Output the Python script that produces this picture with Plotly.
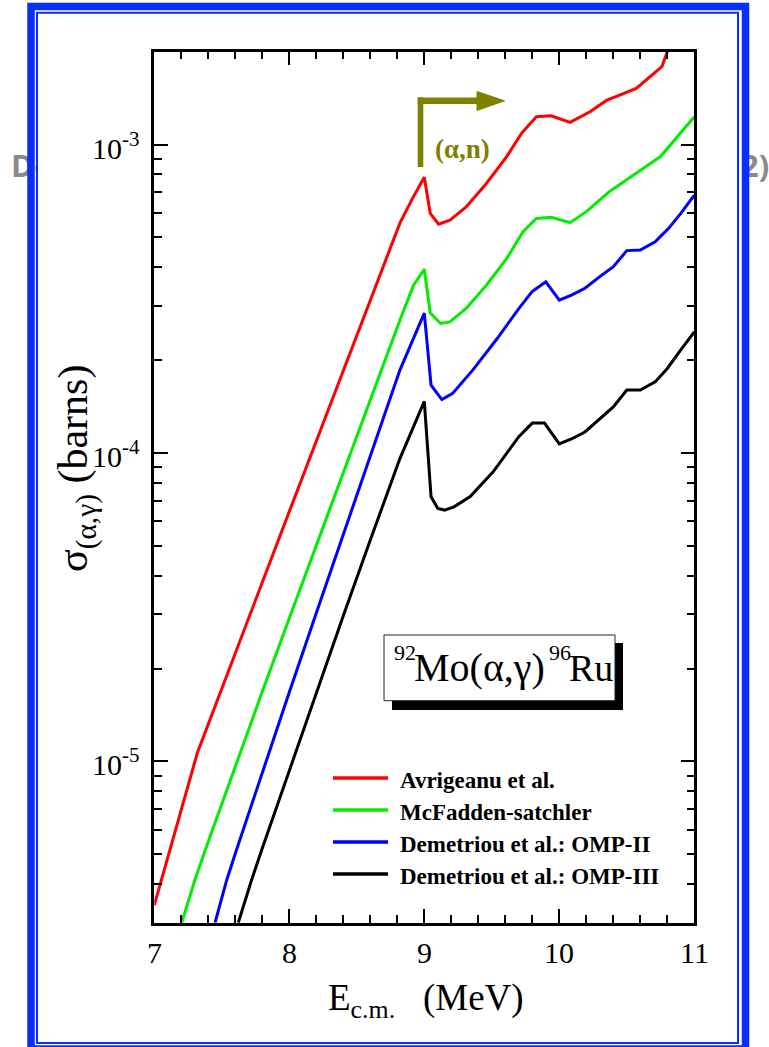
import math
import plotly.graph_objects as go

W, H = 769, 1047

# ---------------- data ----------------
E_avrigeanu = [7.0, 7.32, 8.0, 8.4, 8.82, 8.92, 9.0, 9.044, 9.106, 9.19, 9.31, 9.46,
               9.61, 9.72, 9.83, 9.94, 10.08, 10.23, 10.35, 10.57, 10.76, 10.80, 11.0]
S_avrigeanu = [3.42e-6, 1.07e-5, 6.46e-5, 1.84e-4, 5.57e-4, 6.78e-4, 7.83e-4, 5.98e-4,
               5.52e-4, 5.69e-4, 6.28e-4, 7.48e-4, 9.14e-4, 1.087e-3, 1.23e-3, 1.24e-3,
               1.18e-3, 1.28e-3, 1.39e-3, 1.52e-3, 1.79e-3, 2.0e-3, 2.4e-3]

E_mcfadden = [7.2, 7.30, 7.4, 7.6, 7.8, 8.0, 8.2, 8.4, 8.6, 8.82, 8.92, 9.0, 9.044, 9.12,
              9.19, 9.31, 9.46, 9.61, 9.73, 9.83, 9.94, 10.08, 10.20, 10.37, 10.55, 10.75, 11.0]
S_mcfadden = [2.97e-6, 4.12e-6, 5.50e-6, 9.67e-6, 1.684e-5, 2.913e-5, 5.02e-5, 8.62e-5,
              1.47e-4, 2.70e-4, 3.50e-4, 3.94e-4, 2.84e-4, 2.63e-4, 2.66e-4, 2.94e-4,
              3.50e-4, 4.27e-4, 5.21e-4, 5.76e-4, 5.81e-4, 5.58e-4, 6.06e-4, 7.03e-4,
              7.96e-4, 9.14e-4, 1.23e-3]

E_omp2 = [7.45, 7.536, 7.6, 7.8, 8.0, 8.2, 8.4, 8.6, 8.82, 9.0, 9.05, 9.13, 9.21, 9.36,
          9.54, 9.70, 9.80, 9.90, 10.0, 10.09, 10.19, 10.30, 10.40, 10.50, 10.60, 10.71,
          10.81, 10.90, 11.0]
S_omp2 = [3.0e-6, 4.12e-6, 5.03e-6, 9.21e-6, 1.677e-5, 3.03e-5, 5.46e-5, 9.80e-5, 1.86e-4,
          2.84e-4, 1.66e-4, 1.49e-4, 1.56e-4, 1.86e-4, 2.35e-4, 2.94e-4, 3.34e-4, 3.59e-4,
          3.13e-4, 3.25e-4, 3.42e-4, 3.73e-4, 4.02e-4, 4.53e-4, 4.55e-4, 4.84e-4, 5.35e-4,
          5.98e-4, 6.85e-4]

E_omp3 = [7.622, 7.72, 7.8, 8.0, 8.2, 8.4, 8.6, 8.82, 9.0, 9.05, 9.10, 9.15, 9.22, 9.34,
          9.51, 9.70, 9.80, 9.89, 10.0, 10.09, 10.19, 10.30, 10.40, 10.50, 10.60, 10.71,
          10.80, 10.90, 11.0]
S_omp3 = [3.0e-6, 4.12e-6, 5.23e-6, 9.38e-6, 1.673e-5, 2.967e-5, 5.22e-5, 9.61e-5, 1.47e-4,
          7.21e-5, 6.61e-5, 6.53e-5, 6.69e-5, 7.22e-5, 8.69e-5, 1.13e-4, 1.25e-4, 1.25e-4,
          1.07e-4, 1.11e-4, 1.17e-4, 1.29e-4, 1.41e-4, 1.60e-4, 1.60e-4, 1.70e-4, 1.88e-4,
          2.16e-4, 2.47e-4]

series_names = ["Avrigeanu et al.", "McFadden-satchler",
                "Demetriou et al.: OMP-II", "Demetriou et al.: OMP-III"]
series_colors = ["#ff0000", "#00ee00", "#0000ff", "#000000"]
series_E = [E_avrigeanu, E_mcfadden, E_omp2, E_omp3]
series_S = [S_avrigeanu, S_mcfadden, S_omp2, S_omp3]

x_range = [7, 11]
x_ticks = [7, 8, 9, 10, 11]
x_ticktext = ["7", "8", "9", "10", "11"]
y_range = [3e-6, 2e-3]
y_ticks = [1e-5, 1e-4, 1e-3]
y_ticktext = ["10<sup>-5</sup>", "10<sup>-4</sup>", "10<sup>-3</sup>"]

reaction_label = ["92", "Mo(\u03b1,\u03b3)", "96", "Ru"]
threshold_label = "(\u03b1,n)"
x_title = "E<sub>c.m.</sub>\u00a0\u00a0\u00a0(MeV)"
y_title = "\u03c3<sub>(\u03b1,\u03b3)</sub>\u00a0(barns)"
side_texts = ["De", "2)"]

# ---------------- layout geometry (pixels) ----------------
PL, PR, PT, PB = 154.3, 694.3, 51.7, 922.7
SERIF = "Liberation Serif"
OLIVE = "#7f7f00"
BLUE = "#0a2eff"
CLEAR = "rgba(0,0,0,0)"

fig = go.Figure()
for E, S, name, color in zip(series_E, series_S, series_names, series_colors):
    fig.add_trace(go.Scatter(x=E, y=S, mode="lines", name=name,
                             line=dict(color=color, width=3),
                             xaxis="x", yaxis="y", showlegend=False))

# background slide text peeking out from behind the frame (clipped to the outer strips)
fig.add_trace(go.Scatter(x=[11], y=[169], text=[side_texts[0]], mode="text",
                         textposition="middle right",
                         textfont=dict(family="Open Sans", size=31, color="#8a8a8a", weight="bold"),
                         xaxis="x3", yaxis="y2", cliponaxis=True, showlegend=False,
                         hoverinfo="skip"))
fig.add_trace(go.Scatter(x=[741], y=[169], text=[side_texts[1]], mode="text",
                         textposition="middle right",
                         textfont=dict(family="Open Sans", size=31, color="#8a8a8a", weight="bold"),
                         xaxis="x4", yaxis="y2", cliponaxis=True, showlegend=False,
                         hoverinfo="skip"))

axis_common = dict(ticks="inside", ticklen=14, tickwidth=2, tickcolor="black",
                   showticklabels=False, showline=True, linewidth=2.5, linecolor="black",
                   mirror="ticks", showgrid=False, zeroline=False, fixedrange=True,
                   automargin=False)

fig.update_layout(
    width=W, height=H, autosize=False,
    margin=dict(l=0, r=0, t=0, b=0, pad=0),
    font=dict(family=SERIF, color="black"),
    paper_bgcolor="white", plot_bgcolor=CLEAR, showlegend=False,
    xaxis=dict(domain=[PL / W, PR / W], range=x_range, anchor="y",
               tickmode="array", tickvals=x_ticks,
               minor=dict(dtick=0.2, tick0=7, ticks="inside", ticklen=8,
                          tickwidth=2, tickcolor="black", showgrid=False),
               **axis_common),
    yaxis=dict(type="log", domain=[1 - PB / H, 1 - PT / H],
               range=[math.log10(y_range[0]), math.log10(y_range[1])], anchor="x",
               tickmode="array", tickvals=y_ticks,
               minor=dict(dtick="D1", ticks="inside", ticklen=8,
                          tickwidth=2, tickcolor="black", showgrid=False),
               **axis_common),
    xaxis2=dict(domain=[0, 1], range=[0, W], anchor="y2", visible=False,
                fixedrange=True, automargin=False),
    yaxis2=dict(domain=[0, 1], range=[H, 0], anchor="x2", visible=False,
                fixedrange=True, automargin=False),
    xaxis3=dict(domain=[0, 37 / W], range=[0, 37], anchor="y2", visible=False,
                fixedrange=True, automargin=False),
    xaxis4=dict(domain=[738 / W, 1], range=[738, W], anchor="y2", visible=False,
                fixedrange=True, automargin=False),
)

shapes = []
P = dict(xref="x2", yref="y2", layer="above")
# reaction box with shadow
shapes.append(dict(type="rect", x0=392, y0=643, x1=623, y1=710, fillcolor="black",
                   line=dict(width=0), **P))
shapes.append(dict(type="rect", x0=384, y0=635, x1=615, y1=700.7, fillcolor="white",
                   line=dict(color="#222222", width=1), **P))
# (alpha,n) threshold arrow
shapes.append(dict(type="line", x0=420.5, y0=97.5, x1=420.5, y1=167,
                   line=dict(color=OLIVE, width=5.6), **P))
shapes.append(dict(type="line", x0=417.7, y0=100.8, x1=481, y1=100.8,
                   line=dict(color=OLIVE, width=6.5), **P))
shapes.append(dict(type="path", path="M 477,91.5 L 504.5,100.8 L 477,110.5 Z",
                   fillcolor=OLIVE, line=dict(color=OLIVE, width=1), **P))
# legend samples
legend_y = [778, 810, 842, 874]
for ly, color in zip(legend_y, series_colors):
    shapes.append(dict(type="line", x0=333, y0=ly, x1=388, y1=ly,
                       line=dict(color=color, width=3.3), **P))
# blue frame
shapes.append(dict(type="rect", x0=37, y0=12.7, x1=738, y1=1043,
                   line=dict(color=BLUE, width=2), **P))
shapes.append(dict(type="rect", x0=31, y0=6.5, x1=745.5, y1=1049,
                   line=dict(color=BLUE, width=7.5), **P))
fig.update_layout(shapes=shapes)

ann = []
A = dict(xref="x2", yref="y2", showarrow=False)
TICKFONT = dict(family=SERIF, size=30, color="black")
# tick labels (placed at the axes' own tick values)
for v, t in zip(x_ticks, x_ticktext):
    ann.append(dict(x=v, xref="x", y=952, yref="y2", text=t, showarrow=False,
                    xanchor="center", yanchor="middle", font=TICKFONT))
for v, t in zip(y_ticks, y_ticktext):
    ann.append(dict(x=142, xref="x2", y=math.log10(v), yref="y", text=t, showarrow=False,
                    xanchor="right", yanchor="middle", yshift=-1, font=TICKFONT))
ann.append(dict(x=462.5, y=148.5, text=threshold_label, xanchor="center", yanchor="middle",
                font=dict(family=SERIF, size=27, color=OLIVE, weight="bold"), **A))
for ly, name in zip(legend_y, series_names):
    ann.append(dict(x=398, y=ly + 2, text=name, xanchor="left", yanchor="middle",
                    font=dict(family=SERIF, size=23, color="black", weight="bold"), **A))
# reaction label pieces
ann.append(dict(x=391.5, y=652.5, text=reaction_label[0], xanchor="left", yanchor="middle",
                font=dict(family=SERIF, size=22, color="black"), **A))
ann.append(dict(x=411.5, y=667.5, text=reaction_label[1], xanchor="left", yanchor="middle",
                font=dict(family=SERIF, size=40, color="black"), **A))
ann.append(dict(x=546.5, y=652.5, text=reaction_label[2], xanchor="left", yanchor="middle",
                font=dict(family=SERIF, size=22, color="black"), **A))
ann.append(dict(x=567, y=667.5, text=reaction_label[3], xanchor="left", yanchor="middle",
                font=dict(family=SERIF, size=38, color="black"), **A))
# axis titles
ann.append(dict(x=426, y=1000, text=x_title, xanchor="center", yanchor="middle",
                font=dict(family=SERIF, size=37, color="black"), **A))
ann.append(dict(x=76, y=469, text=y_title, xanchor="center", yanchor="middle", textangle=-90,
                font=dict(family=SERIF, size=42, color="black"), **A))
fig.update_layout(annotations=ann)

fig.write_html("out.html", config={"responsive": False})
